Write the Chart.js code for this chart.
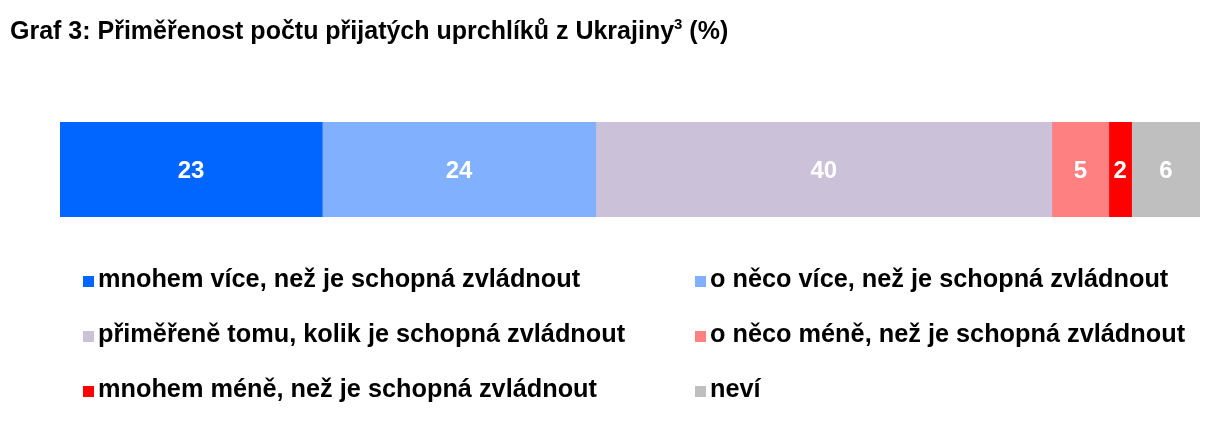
<!DOCTYPE html>
<html>
<head>
<meta charset="utf-8">
<script src="https://cdn.jsdelivr.net/npm/chart.js@4"></script>
<style>
  body { margin: 0; background: #fff; font-family: "Liberation Sans", Arial, sans-serif; }
  #wrap { position: relative; width: 1225px; height: 424px; }
  #chart { position: absolute; left: 0; top: 0; }
  #title { position: absolute; left: 10px; top: 18px; font-size: 25px; line-height: 25px; font-weight: bold; color: #000; white-space: nowrap; }
  #title sup { font-size: 15px; vertical-align: 10px; line-height: 0; }
  .item { position: absolute; font-size: 25.3px; font-weight: bold; color: #000; white-space: nowrap; line-height: 30px; }
  .item span.sw { display: inline-block; width: 11px; height: 11px; margin-right: 4px; vertical-align: baseline; }
</style>
</head>
<body>
<div id="wrap">
  <canvas id="chart" width="1225" height="424"></canvas>
  <div id="title">Graf 3: Přiměřenost počtu přijatých uprchlíků z Ukrajiny<sup>3</sup> (%)</div>
  <div id="legend"></div>
</div>
<script>
const categories = [""];
const seriesNames = [
  "mnohem více, než je schopná zvládnout",
  "o něco více, než je schopná zvládnout",
  "přiměřeně tomu, kolik je schopná zvládnout",
  "o něco méně, než je schopná zvládnout",
  "mnohem méně, než je schopná zvládnout",
  "neví",
];
const seriesValues = [23, 24, 40, 5, 2, 6];
const seriesColors = ["#0066ff", "#80b0ff", "#cbc1d9", "#ff8080", "#ff0000", "#bfbfbf"];

// white value labels centred in each segment
const valueLabels = {
  id: "valueLabels",
  afterDatasetsDraw(chart) {
    const ctx = chart.ctx;
    ctx.save();
    ctx.fillStyle = "#fff";
    ctx.font = "bold 24px 'Liberation Sans', Arial, sans-serif";
    ctx.textAlign = "center";
    ctx.textBaseline = "middle";
    chart.data.datasets.forEach((ds, i) => {
      chart.getDatasetMeta(i).data.forEach((bar, j) => {
        const p = bar.getProps(["x", "base", "y"], true);
        ctx.fillText(String(ds.data[j]), (p.x + p.base) / 2, p.y + 2);
      });
    });
    ctx.restore();
  },
};

let chart = new Chart(document.getElementById("chart"), {
  type: "bar",
  data: {
    labels: categories,
    datasets: seriesNames.map((name, i) => ({
      label: name,
      data: [seriesValues[i]],
      backgroundColor: seriesColors[i],
      barPercentage: 1,
      categoryPercentage: 1,
    })),
  },
  options: {
    indexAxis: "y",
    responsive: false,
    animation: false,
    layout: { padding: { left: 60, right: 25, top: 122, bottom: 207 } },
    scales: {
      x: { stacked: true, min: 0, max: 100, display: false },
      y: { stacked: true, display: false },
    },
    plugins: {
      legend: { display: false },
      tooltip: { enabled: false },
    },
  },
  plugins: [valueLabels],
});

// two-column legend below the bar
const legendEl = document.getElementById("legend");
seriesNames.forEach((name, i) => {
  const div = document.createElement("div");
  div.className = "item";
  div.style.left = (i % 2 === 0 ? 83 : 695) + "px";
  div.style.top = (263 + Math.floor(i / 2) * 55) + "px";
  div.innerHTML = '<span class="sw" style="background:' + seriesColors[i] + '"></span>' + name;
  legendEl.appendChild(div);
});
</script>
</body>
</html>
